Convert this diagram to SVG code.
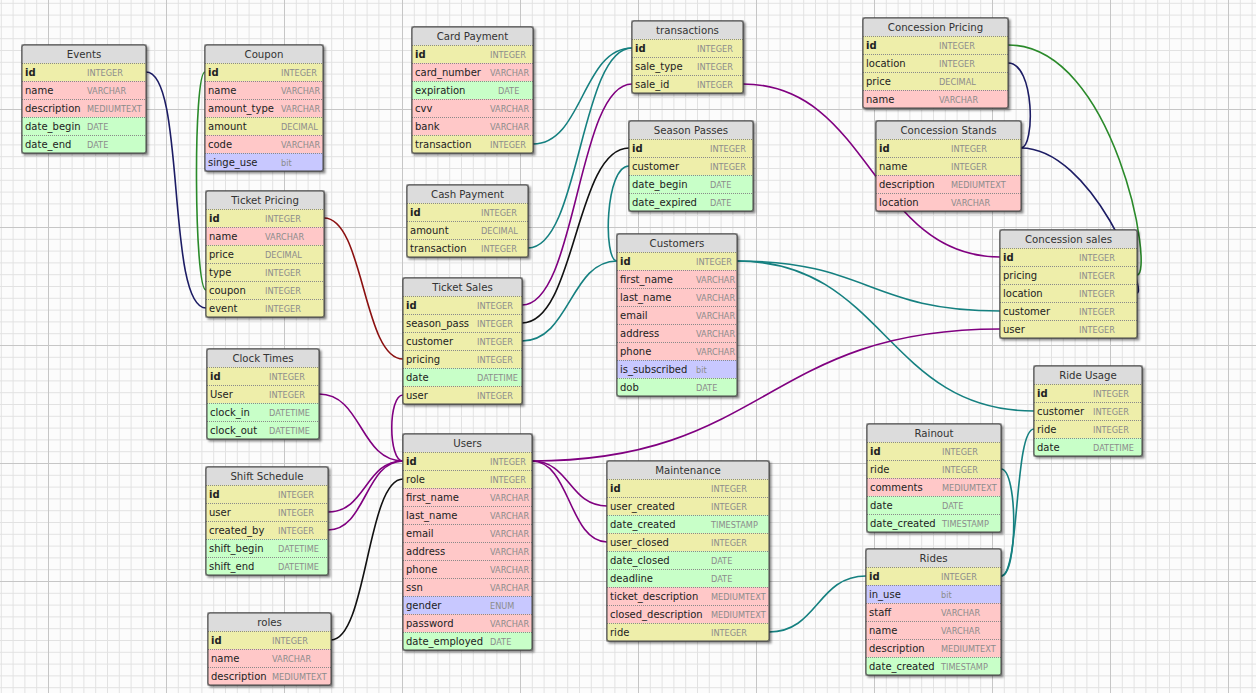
<svg xmlns="http://www.w3.org/2000/svg" width="1256" height="693" viewBox="0 0 1256 693">
<defs>
<pattern id="minor" width="11.8" height="11.8" patternUnits="userSpaceOnUse" patternTransform="translate(48,109)">
<path d="M0.5,0V11.8M0,0.5H11.8" stroke="#e2e2e2" stroke-width="1" fill="none"/>
</pattern>
<pattern id="major" width="118" height="118" patternUnits="userSpaceOnUse" patternTransform="translate(48,109)">
<path d="M0.5,0V118M0,0.5H118" stroke="#c6c6c6" stroke-width="1" fill="none"/>
</pattern>
<filter id="sh" x="-10%" y="-10%" width="130%" height="130%">
<feDropShadow dx="2" dy="2" stdDeviation="1.3" flood-color="#000" flood-opacity="0.45"/>
</filter>
<style>
.box{fill:#fff;stroke:#444;stroke-width:1;filter:url(#sh)}
.ol{fill:none;stroke:#444;stroke-width:1}
.hd{fill:#dcdcdc}
.Y{fill:#eeeeaa}.P{fill:#ffc8c8}.G{fill:#c8ffc8}.B{fill:#c8c8ff}
.sep{stroke:#8a8a8a;stroke-width:1;stroke-dasharray:1 1;fill:none}
text{font-family:"DejaVu Sans",Verdana,sans-serif}
.ht{font-size:10.2px;fill:#333;text-anchor:middle}
.n{font-size:10px;fill:#222}
.k{font-weight:bold}
.t{font-size:8.2px;fill:#8c8c8c}
.c{fill:none;stroke-width:1.6}
.nv{stroke:#1c1c64}.gr{stroke:#2a8a2a}.mr{stroke:#8b1010}.pu{stroke:#800080}.te{stroke:#158080}.bk{stroke:#111}
</style>
</defs>
<rect width="1256" height="693" fill="#fcfcfc"/>
<rect width="1256" height="693" fill="url(#minor)"/>
<rect width="1256" height="693" fill="url(#major)"/>

<g id="connectors">
<path class="c nv" d="M146,72 C186,72 166,308 206,308"/>
<path class="c gr" d="M205,72 C193,72 194,290 206,290"/>
<path class="c mr" d="M324,218 C364,218 363,359 403,359"/>
<path class="c te" d="M533,144 C583,144 582,48 632,48"/>
<path class="c te" d="M528,248 C580,248 580,48 632,48"/>
<path class="c pu" d="M632,84 C577,84 577,305 522,305"/>
<path class="c bk" d="M629,148 C575,148 576,323 522,323"/>
<path class="c te" d="M617,261 C570,261 570,341 522,341"/>
<path class="c te" d="M617,261 C603,261 605,166 629,166"/>
<path class="c pu" d="M743,84 C871,84 872,257 1000,257"/>
<path class="c gr" d="M1008,45 C1115,45 1155,275 1137,275"/>
<path class="c nv" d="M1008,63 C1035,63 1035,148 1021,148"/>
<path class="c nv" d="M1021,148 C1092,148 1148,293 1137,293"/>
<path class="c te" d="M737,261 C868,261 869,311 1000,311"/>
<path class="c te" d="M737,261 C885,261 886,411 1034,411"/>
<path class="c pu" d="M532,461 C766,461 766,329 1000,329"/>
<path class="c pu" d="M403,461 C360,461 362,394 319,394"/>
<path class="c pu" d="M403,461 C365,461 366,512 328,512"/>
<path class="c pu" d="M403,461 C365,461 366,530 328,530"/>
<path class="c pu" d="M403,395 C388,395 388,461 403,461"/>
<path class="c bk" d="M403,479 C367,479 367,640 331,640"/>
<path class="c pu" d="M532,461 C570,461 569,506 607,506"/>
<path class="c pu" d="M532,461 C570,461 569,542 607,542"/>
<path class="c te" d="M769,632 C818,632 817,576 866,576"/>
<path class="c te" d="M1001,576 C1018,576 1018,469 1001,469"/>
<path class="c te" d="M1001,576 C1020,576 1014,429 1034,429"/>
</g>

<g id="events" transform="translate(22,45)">
<rect class="box" width="124" height="108"/>
<rect class="hd" width="124" height="18"/>
<rect class="Y" y="18" width="124" height="18"/><rect class="P" y="36" width="124" height="36"/><rect class="G" y="72" width="124" height="36"/>
<path class="sep" d="M0,18.5H124M0,36.5H124M0,54.5H124M0,72.5H124M0,90.5H124"/>
<rect class="ol" width="124" height="108" rx="2"/>
<text class="ht" x="62" y="13">Events</text>
<text class="n k" x="3" y="31">id</text><text class="t" x="65" y="30.5">INTEGER</text>
<text class="n" x="3" y="49">name</text><text class="t" x="65" y="48.5">VARCHAR</text>
<text class="n" x="3" y="67">description</text><text class="t" x="65" y="66.5">MEDIUMTEXT</text>
<text class="n" x="3" y="85">date_begin</text><text class="t" x="65" y="84.5">DATE</text>
<text class="n" x="3" y="103">date_end</text><text class="t" x="65" y="102.5">DATE</text>
</g>

<g id="coupon" transform="translate(205,45)">
<rect class="box" width="118" height="126"/>
<rect class="hd" width="118" height="18"/>
<rect class="Y" y="18" width="118" height="18"/><rect class="P" y="36" width="118" height="36"/><rect class="Y" y="72" width="118" height="18"/><rect class="P" y="90" width="118" height="18"/><rect class="B" y="108" width="118" height="18"/>
<path class="sep" d="M0,18.5H118M0,36.5H118M0,54.5H118M0,72.5H118M0,90.5H118M0,108.5H118"/>
<rect class="ol" width="118" height="126" rx="2"/>
<text class="ht" x="59" y="13">Coupon</text>
<text class="n k" x="3" y="31">id</text><text class="t" x="76" y="30.5">INTEGER</text>
<text class="n" x="3" y="49">name</text><text class="t" x="76" y="48.5">VARCHAR</text>
<text class="n" x="3" y="67">amount_type</text><text class="t" x="76" y="66.5">VARCHAR</text>
<text class="n" x="3" y="85">amount</text><text class="t" x="76" y="84.5">DECIMAL</text>
<text class="n" x="3" y="103">code</text><text class="t" x="76" y="102.5">VARCHAR</text>
<text class="n" x="3" y="121">singe_use</text><text class="t" x="76" y="120.5">bit</text>
</g>

<g id="ticket-pricing" transform="translate(206,191)">
<rect class="box" width="118" height="126"/>
<rect class="hd" width="118" height="18"/>
<rect class="Y" y="18" width="118" height="18"/><rect class="P" y="36" width="118" height="18"/><rect class="Y" y="54" width="118" height="72"/>
<path class="sep" d="M0,18.5H118M0,36.5H118M0,54.5H118M0,72.5H118M0,90.5H118M0,108.5H118"/>
<rect class="ol" width="118" height="126" rx="2"/>
<text class="ht" x="59" y="13">Ticket Pricing</text>
<text class="n k" x="3" y="31">id</text><text class="t" x="59" y="30.5">INTEGER</text>
<text class="n" x="3" y="49">name</text><text class="t" x="59" y="48.5">VARCHAR</text>
<text class="n" x="3" y="67">price</text><text class="t" x="59" y="66.5">DECIMAL</text>
<text class="n" x="3" y="85">type</text><text class="t" x="59" y="84.5">INTEGER</text>
<text class="n" x="3" y="103">coupon</text><text class="t" x="59" y="102.5">INTEGER</text>
<text class="n" x="3" y="121">event</text><text class="t" x="59" y="120.5">INTEGER</text>
</g>

<g id="clock-times" transform="translate(207,349)">
<rect class="box" width="112" height="90"/>
<rect class="hd" width="112" height="18"/>
<rect class="Y" y="18" width="112" height="36"/><rect class="G" y="54" width="112" height="36"/>
<path class="sep" d="M0,18.5H112M0,36.5H112M0,54.5H112M0,72.5H112"/>
<rect class="ol" width="112" height="90" rx="2"/>
<text class="ht" x="56" y="13">Clock Times</text>
<text class="n k" x="3" y="31">id</text><text class="t" x="62" y="30.5">INTEGER</text>
<text class="n" x="3" y="49">User</text><text class="t" x="62" y="48.5">INTEGER</text>
<text class="n" x="3" y="67">clock_in</text><text class="t" x="62" y="66.5">DATETIME</text>
<text class="n" x="3" y="85">clock_out</text><text class="t" x="62" y="84.5">DATETIME</text>
</g>

<g id="shift-schedule" transform="translate(206,467)">
<rect class="box" width="122" height="108"/>
<rect class="hd" width="122" height="18"/>
<rect class="Y" y="18" width="122" height="54"/><rect class="G" y="72" width="122" height="36"/>
<path class="sep" d="M0,18.5H122M0,36.5H122M0,54.5H122M0,72.5H122M0,90.5H122"/>
<rect class="ol" width="122" height="108" rx="2"/>
<text class="ht" x="61" y="13">Shift Schedule</text>
<text class="n k" x="3" y="31">id</text><text class="t" x="72" y="30.5">INTEGER</text>
<text class="n" x="3" y="49">user</text><text class="t" x="72" y="48.5">INTEGER</text>
<text class="n" x="3" y="67">created_by</text><text class="t" x="72" y="66.5">INTEGER</text>
<text class="n" x="3" y="85">shift_begin</text><text class="t" x="72" y="84.5">DATETIME</text>
<text class="n" x="3" y="103">shift_end</text><text class="t" x="72" y="102.5">DATETIME</text>
</g>

<g id="roles" transform="translate(208,613)">
<rect class="box" width="123" height="72"/>
<rect class="hd" width="123" height="18"/>
<rect class="Y" y="18" width="123" height="18"/><rect class="P" y="36" width="123" height="36"/>
<path class="sep" d="M0,18.5H123M0,36.5H123M0,54.5H123"/>
<rect class="ol" width="123" height="72" rx="2"/>
<text class="ht" x="61.5" y="13">roles</text>
<text class="n k" x="3" y="31">id</text><text class="t" x="64" y="30.5">INTEGER</text>
<text class="n" x="3" y="49">name</text><text class="t" x="64" y="48.5">VARCHAR</text>
<text class="n" x="3" y="67">description</text><text class="t" x="64" y="66.5">MEDIUMTEXT</text>
</g>

<g id="card-payment" transform="translate(412,27)">
<rect class="box" width="121" height="126"/>
<rect class="hd" width="121" height="18"/>
<rect class="Y" y="18" width="121" height="18"/><rect class="P" y="36" width="121" height="18"/><rect class="G" y="54" width="121" height="18"/><rect class="P" y="72" width="121" height="36"/><rect class="Y" y="108" width="121" height="18"/>
<path class="sep" d="M0,18.5H121M0,36.5H121M0,54.5H121M0,72.5H121M0,90.5H121M0,108.5H121"/>
<rect class="ol" width="121" height="126" rx="2"/>
<text class="ht" x="60.5" y="13">Card Payment</text>
<text class="n k" x="3" y="31">id</text><text class="t" x="78" y="30.5">INTEGER</text>
<text class="n" x="3" y="49">card_number</text><text class="t" x="78" y="48.5">VARCHAR</text>
<text class="n" x="3" y="67">expiration</text><text class="t" x="86" y="66.5">DATE</text>
<text class="n" x="3" y="85">cvv</text><text class="t" x="78" y="84.5">VARCHAR</text>
<text class="n" x="3" y="103">bank</text><text class="t" x="78" y="102.5">VARCHAR</text>
<text class="n" x="3" y="121">transaction</text><text class="t" x="78" y="120.5">INTEGER</text>
</g>

<g id="cash-payment" transform="translate(407,185)">
<rect class="box" width="121" height="72"/>
<rect class="hd" width="121" height="18"/>
<rect class="Y" y="18" width="121" height="54"/>
<path class="sep" d="M0,18.5H121M0,36.5H121M0,54.5H121"/>
<rect class="ol" width="121" height="72" rx="2"/>
<text class="ht" x="60.5" y="13">Cash Payment</text>
<text class="n k" x="3" y="31">id</text><text class="t" x="74" y="30.5">INTEGER</text>
<text class="n" x="3" y="49">amount</text><text class="t" x="74" y="48.5">DECIMAL</text>
<text class="n" x="3" y="67">transaction</text><text class="t" x="74" y="66.5">INTEGER</text>
</g>

<g id="ticket-sales" transform="translate(403,278)">
<rect class="box" width="119" height="126"/>
<rect class="hd" width="119" height="18"/>
<rect class="Y" y="18" width="119" height="72"/><rect class="G" y="90" width="119" height="18"/><rect class="Y" y="108" width="119" height="18"/>
<path class="sep" d="M0,18.5H119M0,36.5H119M0,54.5H119M0,72.5H119M0,90.5H119M0,108.5H119"/>
<rect class="ol" width="119" height="126" rx="2"/>
<text class="ht" x="59.5" y="13">Ticket Sales</text>
<text class="n k" x="3" y="31">id</text><text class="t" x="74" y="30.5">INTEGER</text>
<text class="n" x="3" y="49">season_pass</text><text class="t" x="74" y="48.5">INTEGER</text>
<text class="n" x="3" y="67">customer</text><text class="t" x="74" y="66.5">INTEGER</text>
<text class="n" x="3" y="85">pricing</text><text class="t" x="74" y="84.5">INTEGER</text>
<text class="n" x="3" y="103">date</text><text class="t" x="74" y="102.5">DATETIME</text>
<text class="n" x="3" y="121">user</text><text class="t" x="74" y="120.5">INTEGER</text>
</g>

<g id="users" transform="translate(403,434)">
<rect class="box" width="129" height="216"/>
<rect class="hd" width="129" height="18"/>
<rect class="Y" y="18" width="129" height="36"/><rect class="P" y="54" width="129" height="108"/><rect class="B" y="162" width="129" height="18"/><rect class="P" y="180" width="129" height="18"/><rect class="G" y="198" width="129" height="18"/>
<path class="sep" d="M0,18.5H129M0,36.5H129M0,54.5H129M0,72.5H129M0,90.5H129M0,108.5H129M0,126.5H129M0,144.5H129M0,162.5H129M0,180.5H129M0,198.5H129"/>
<rect class="ol" width="129" height="216" rx="2"/>
<text class="ht" x="64.5" y="13">Users</text>
<text class="n k" x="3" y="31">id</text><text class="t" x="87" y="30.5">INTEGER</text>
<text class="n" x="3" y="49">role</text><text class="t" x="87" y="48.5">INTEGER</text>
<text class="n" x="3" y="67">first_name</text><text class="t" x="87" y="66.5">VARCHAR</text>
<text class="n" x="3" y="85">last_name</text><text class="t" x="87" y="84.5">VARCHAR</text>
<text class="n" x="3" y="103">email</text><text class="t" x="87" y="102.5">VARCHAR</text>
<text class="n" x="3" y="121">address</text><text class="t" x="87" y="120.5">VARCHAR</text>
<text class="n" x="3" y="139">phone</text><text class="t" x="87" y="138.5">VARCHAR</text>
<text class="n" x="3" y="157">ssn</text><text class="t" x="87" y="156.5">VARCHAR</text>
<text class="n" x="3" y="175">gender</text><text class="t" x="87" y="174.5">ENUM</text>
<text class="n" x="3" y="193">password</text><text class="t" x="87" y="192.5">VARCHAR</text>
<text class="n" x="3" y="211">date_employed</text><text class="t" x="87" y="210.5">DATE</text>
</g>

<g id="transactions" transform="translate(632,21)">
<rect class="box" width="111" height="72"/>
<rect class="hd" width="111" height="18"/>
<rect class="Y" y="18" width="111" height="54"/>
<path class="sep" d="M0,18.5H111M0,36.5H111M0,54.5H111"/>
<rect class="ol" width="111" height="72" rx="2"/>
<text class="ht" x="55.5" y="13">transactions</text>
<text class="n k" x="3" y="31">id</text><text class="t" x="65" y="30.5">INTEGER</text>
<text class="n" x="3" y="49">sale_type</text><text class="t" x="65" y="48.5">INTEGER</text>
<text class="n" x="3" y="67">sale_id</text><text class="t" x="65" y="66.5">INTEGER</text>
</g>

<g id="season-passes" transform="translate(629,121)">
<rect class="box" width="124" height="90"/>
<rect class="hd" width="124" height="18"/>
<rect class="Y" y="18" width="124" height="36"/><rect class="G" y="54" width="124" height="36"/>
<path class="sep" d="M0,18.5H124M0,36.5H124M0,54.5H124M0,72.5H124"/>
<rect class="ol" width="124" height="90" rx="2"/>
<text class="ht" x="62" y="13">Season Passes</text>
<text class="n k" x="3" y="31">id</text><text class="t" x="81" y="30.5">INTEGER</text>
<text class="n" x="3" y="49">customer</text><text class="t" x="81" y="48.5">INTEGER</text>
<text class="n" x="3" y="67">date_begin</text><text class="t" x="81" y="66.5">DATE</text>
<text class="n" x="3" y="85">date_expired</text><text class="t" x="81" y="84.5">DATE</text>
</g>

<g id="customers" transform="translate(617,234)">
<rect class="box" width="120" height="162"/>
<rect class="hd" width="120" height="18"/>
<rect class="Y" y="18" width="120" height="18"/><rect class="P" y="36" width="120" height="90"/><rect class="B" y="126" width="120" height="18"/><rect class="G" y="144" width="120" height="18"/>
<path class="sep" d="M0,18.5H120M0,36.5H120M0,54.5H120M0,72.5H120M0,90.5H120M0,108.5H120M0,126.5H120M0,144.5H120"/>
<rect class="ol" width="120" height="162" rx="2"/>
<text class="ht" x="60" y="13">Customers</text>
<text class="n k" x="3" y="31">id</text><text class="t" x="79" y="30.5">INTEGER</text>
<text class="n" x="3" y="49">first_name</text><text class="t" x="79" y="48.5">VARCHAR</text>
<text class="n" x="3" y="67">last_name</text><text class="t" x="79" y="66.5">VARCHAR</text>
<text class="n" x="3" y="85">email</text><text class="t" x="79" y="84.5">VARCHAR</text>
<text class="n" x="3" y="103">address</text><text class="t" x="79" y="102.5">VARCHAR</text>
<text class="n" x="3" y="121">phone</text><text class="t" x="79" y="120.5">VARCHAR</text>
<text class="n" x="3" y="139">is_subscribed</text><text class="t" x="79" y="138.5">bit</text>
<text class="n" x="3" y="157">dob</text><text class="t" x="79" y="156.5">DATE</text>
</g>

<g id="maintenance" transform="translate(607,461)">
<rect class="box" width="162" height="180"/>
<rect class="hd" width="162" height="18"/>
<rect class="Y" y="18" width="162" height="36"/><rect class="G" y="54" width="162" height="18"/><rect class="Y" y="72" width="162" height="18"/><rect class="G" y="90" width="162" height="36"/><rect class="P" y="126" width="162" height="36"/><rect class="Y" y="162" width="162" height="18"/>
<path class="sep" d="M0,18.5H162M0,36.5H162M0,54.5H162M0,72.5H162M0,90.5H162M0,108.5H162M0,126.5H162M0,144.5H162M0,162.5H162"/>
<rect class="ol" width="162" height="180" rx="2"/>
<text class="ht" x="81" y="13">Maintenance</text>
<text class="n k" x="3" y="31">id</text><text class="t" x="104" y="30.5">INTEGER</text>
<text class="n" x="3" y="49">user_created</text><text class="t" x="104" y="48.5">INTEGER</text>
<text class="n" x="3" y="67">date_created</text><text class="t" x="104" y="66.5">TIMESTAMP</text>
<text class="n" x="3" y="85">user_closed</text><text class="t" x="104" y="84.5">INTEGER</text>
<text class="n" x="3" y="103">date_closed</text><text class="t" x="104" y="102.5">DATE</text>
<text class="n" x="3" y="121">deadline</text><text class="t" x="104" y="120.5">DATE</text>
<text class="n" x="3" y="139">ticket_description</text><text class="t" x="104" y="138.5">MEDIUMTEXT</text>
<text class="n" x="3" y="157">closed_description</text><text class="t" x="104" y="156.5">MEDIUMTEXT</text>
<text class="n" x="3" y="175">ride</text><text class="t" x="104" y="174.5">INTEGER</text>
</g>

<g id="concession-pricing" transform="translate(863,18)">
<rect class="box" width="145" height="90"/>
<rect class="hd" width="145" height="18"/>
<rect class="Y" y="18" width="145" height="54"/><rect class="P" y="72" width="145" height="18"/>
<path class="sep" d="M0,18.5H145M0,36.5H145M0,54.5H145M0,72.5H145"/>
<rect class="ol" width="145" height="90" rx="2"/>
<text class="ht" x="72.5" y="13">Concession Pricing</text>
<text class="n k" x="3" y="31">id</text><text class="t" x="76" y="30.5">INTEGER</text>
<text class="n" x="3" y="49">location</text><text class="t" x="76" y="48.5">INTEGER</text>
<text class="n" x="3" y="67">price</text><text class="t" x="76" y="66.5">DECIMAL</text>
<text class="n" x="3" y="85">name</text><text class="t" x="76" y="84.5">VARCHAR</text>
</g>

<g id="concession-stands" transform="translate(876,121)">
<rect class="box" width="145" height="90"/>
<rect class="hd" width="145" height="18"/>
<rect class="Y" y="18" width="145" height="36"/><rect class="P" y="54" width="145" height="36"/>
<path class="sep" d="M0,18.5H145M0,36.5H145M0,54.5H145M0,72.5H145"/>
<rect class="ol" width="145" height="90" rx="2"/>
<text class="ht" x="72.5" y="13">Concession Stands</text>
<text class="n k" x="3" y="31">id</text><text class="t" x="75" y="30.5">INTEGER</text>
<text class="n" x="3" y="49">name</text><text class="t" x="75" y="48.5">INTEGER</text>
<text class="n" x="3" y="67">description</text><text class="t" x="75" y="66.5">MEDIUMTEXT</text>
<text class="n" x="3" y="85">location</text><text class="t" x="75" y="84.5">VARCHAR</text>
</g>

<g id="concession-sales" transform="translate(1000,230)">
<rect class="box" width="137" height="108"/>
<rect class="hd" width="137" height="18"/>
<rect class="Y" y="18" width="137" height="90"/>
<path class="sep" d="M0,18.5H137M0,36.5H137M0,54.5H137M0,72.5H137M0,90.5H137"/>
<rect class="ol" width="137" height="108" rx="2"/>
<text class="ht" x="68.5" y="13">Concession sales</text>
<text class="n k" x="3" y="31">id</text><text class="t" x="79" y="30.5">INTEGER</text>
<text class="n" x="3" y="49">pricing</text><text class="t" x="79" y="48.5">INTEGER</text>
<text class="n" x="3" y="67">location</text><text class="t" x="79" y="66.5">INTEGER</text>
<text class="n" x="3" y="85">customer</text><text class="t" x="79" y="84.5">INTEGER</text>
<text class="n" x="3" y="103">user</text><text class="t" x="79" y="102.5">INTEGER</text>
</g>

<g id="ride-usage" transform="translate(1034,366)">
<rect class="box" width="108" height="90"/>
<rect class="hd" width="108" height="18"/>
<rect class="Y" y="18" width="108" height="54"/><rect class="G" y="72" width="108" height="18"/>
<path class="sep" d="M0,18.5H108M0,36.5H108M0,54.5H108M0,72.5H108"/>
<rect class="ol" width="108" height="90" rx="2"/>
<text class="ht" x="54" y="13">Ride Usage</text>
<text class="n k" x="3" y="31">id</text><text class="t" x="59" y="30.5">INTEGER</text>
<text class="n" x="3" y="49">customer</text><text class="t" x="59" y="48.5">INTEGER</text>
<text class="n" x="3" y="67">ride</text><text class="t" x="59" y="66.5">INTEGER</text>
<text class="n" x="3" y="85">date</text><text class="t" x="59" y="84.5">DATETIME</text>
</g>

<g id="rainout" transform="translate(867,424)">
<rect class="box" width="134" height="108"/>
<rect class="hd" width="134" height="18"/>
<rect class="Y" y="18" width="134" height="36"/><rect class="P" y="54" width="134" height="18"/><rect class="G" y="72" width="134" height="36"/>
<path class="sep" d="M0,18.5H134M0,36.5H134M0,54.5H134M0,72.5H134M0,90.5H134"/>
<rect class="ol" width="134" height="108" rx="2"/>
<text class="ht" x="67" y="13">Rainout</text>
<text class="n k" x="3" y="31">id</text><text class="t" x="75" y="30.5">INTEGER</text>
<text class="n" x="3" y="49">ride</text><text class="t" x="75" y="48.5">INTEGER</text>
<text class="n" x="3" y="67">comments</text><text class="t" x="75" y="66.5">MEDIUMTEXT</text>
<text class="n" x="3" y="85">date</text><text class="t" x="75" y="84.5">DATE</text>
<text class="n" x="3" y="103">date_created</text><text class="t" x="75" y="102.5">TIMESTAMP</text>
</g>

<g id="rides" transform="translate(866,549)">
<rect class="box" width="135" height="126"/>
<rect class="hd" width="135" height="18"/>
<rect class="Y" y="18" width="135" height="18"/><rect class="B" y="36" width="135" height="18"/><rect class="P" y="54" width="135" height="54"/><rect class="G" y="108" width="135" height="18"/>
<path class="sep" d="M0,18.5H135M0,36.5H135M0,54.5H135M0,72.5H135M0,90.5H135M0,108.5H135"/>
<rect class="ol" width="135" height="126" rx="2"/>
<text class="ht" x="67.5" y="13">Rides</text>
<text class="n k" x="3" y="31">id</text><text class="t" x="75" y="30.5">INTEGER</text>
<text class="n" x="3" y="49">in_use</text><text class="t" x="75" y="48.5">bit</text>
<text class="n" x="3" y="67">staff</text><text class="t" x="75" y="66.5">VARCHAR</text>
<text class="n" x="3" y="85">name</text><text class="t" x="75" y="84.5">VARCHAR</text>
<text class="n" x="3" y="103">description</text><text class="t" x="75" y="102.5">MEDIUMTEXT</text>
<text class="n" x="3" y="121">date_created</text><text class="t" x="75" y="120.5">TIMESTAMP</text>
</g>
</svg>
